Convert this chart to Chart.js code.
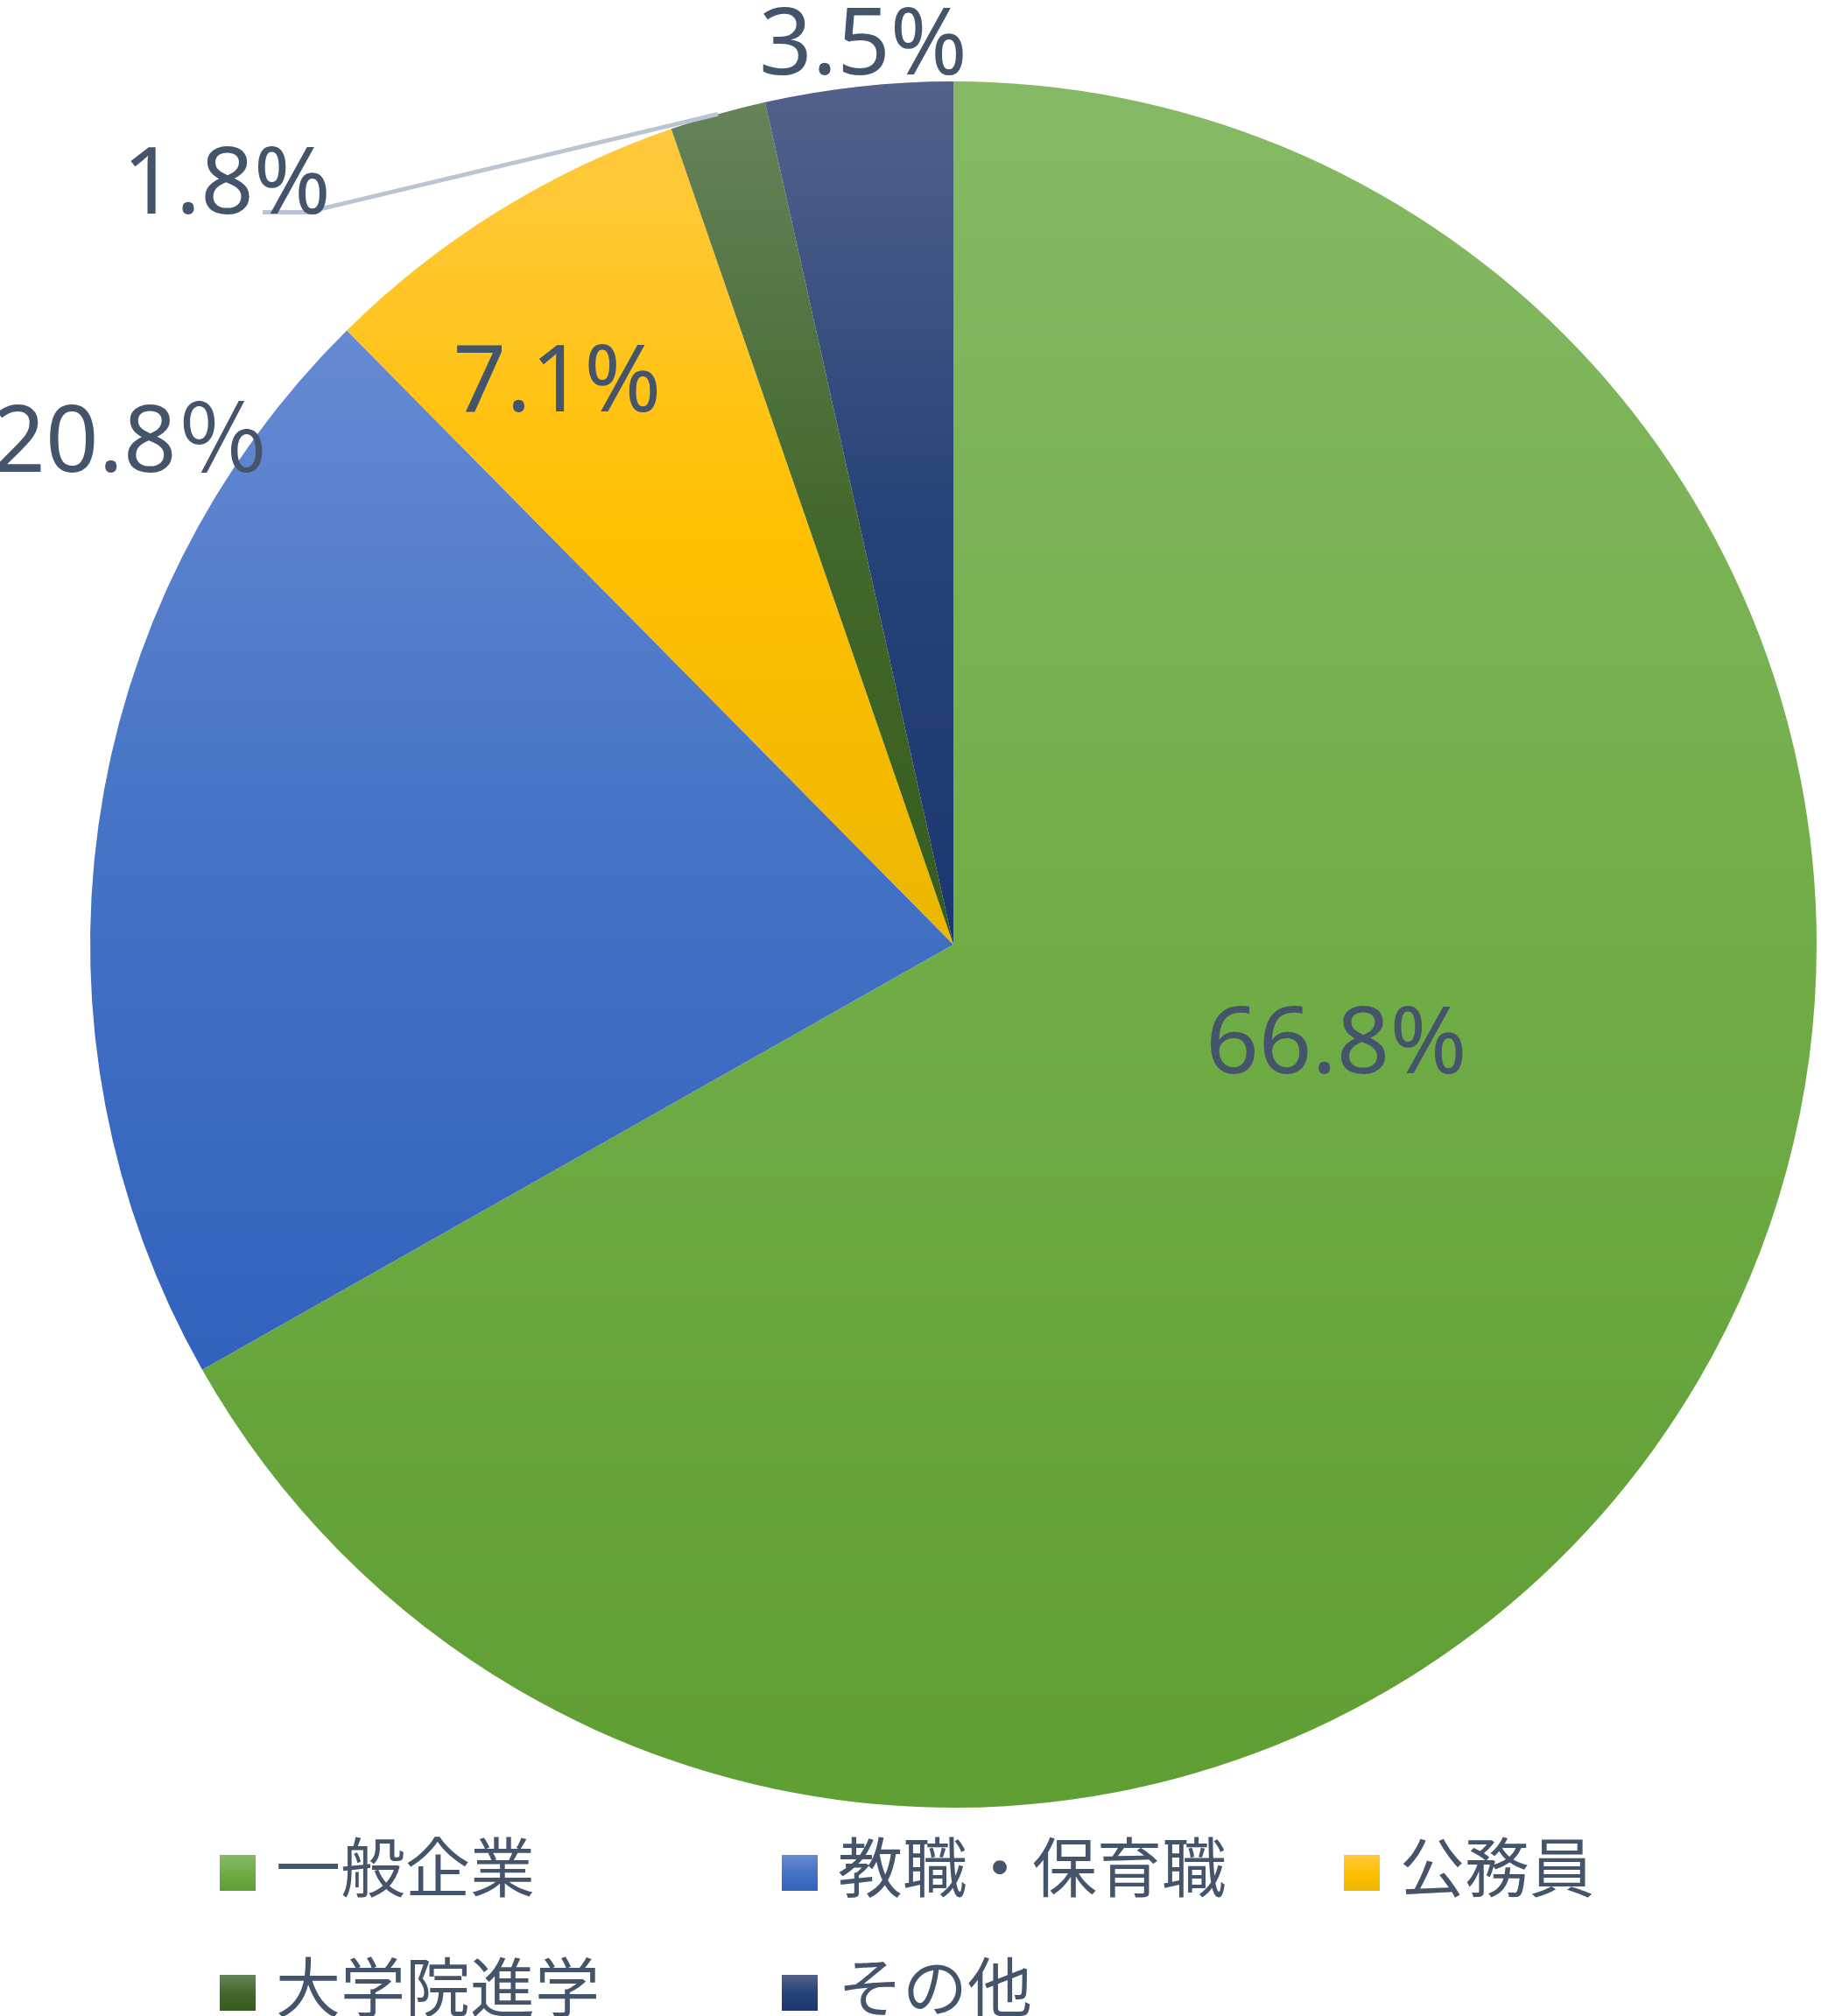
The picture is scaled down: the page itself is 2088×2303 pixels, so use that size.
<!DOCTYPE html>
<html>
<head>
<meta charset="utf-8">
<script src="https://cdn.jsdelivr.net/npm/chart.js@4"></script>
<style>
  html, body { margin: 0; padding: 0; background: #fff; }
  #wrap { width: 2088px; height: 2303px; position: relative; }
</style>
</head>
<body>
<div id="wrap"><canvas id="pieChart"></canvas></div>
<script>
// data
const categories = ['一般企業', '教職・保育職', '公務員', '大学院進学', 'その他'];
const shares = [66.8, 20.8, 7.1, 1.8, 3.5];
const valueLabels = ['66.8%', '20.8％', '7.1%', '1.8%', '3.5%'];

// styles: [top, middle, bottom] of each slice gradient
const sliceColors = [
    ['#86b965', '#70ad47', '#5f9e33'],
    ['#668ad3', '#4472c4', '#3262bd'],
    ['#ffc93f', '#ffc000', '#ebb600'],
    ['#66835a', '#43682b', '#365c1d'],
    ['#53618b', '#264478', '#1c3770']
];
// label placement: radius factor and angle nudge (deg) from slice middle
const labelPlace = [
    { rf: 0.457, shift: -16.3 },
    { rf: 1.119, shift: 23.7 },
    { rf: 0.801, shift: -3.1 },
    { rf: 1.222, shift: -27.7 },
    { rf: 1.052, shift: 0.6 }
];
const textColor = '#44546a';
const labelFont = 'normal 106px "Noto Sans", "Noto Sans CJK JP", sans-serif';
const legendFont = 'normal 74px "Noto Sans CJK JP", sans-serif';

function inRange(a, a0, a1) {
    const TAU = Math.PI * 2;
    let t = a;
    while (t < a0) t += TAU;
    while (t > a0 + TAU) t -= TAU;
    return t <= a1;
}

function sliceGradient(context) {
    const chart = context.chart;
    const area = chart.chartArea;
    const i = context.dataIndex;
    const cols = sliceColors[i];
    if (!area || i === undefined) return cols[1];
    const cx = (area.left + area.right) / 2;
    const cy = (area.top + area.bottom) / 2;
    const r = Math.min(area.right - area.left, area.bottom - area.top) / 2;
    const total = shares.reduce((s, v) => s + v, 0);
    let before = 0;
    for (let k = 0; k < i; k++) before += shares[k];
    const a0 = -Math.PI / 2 + before / total * Math.PI * 2;
    const a1 = a0 + shares[i] / total * Math.PI * 2;
    const ys = [cy, cy + r * Math.sin(a0), cy + r * Math.sin(a1)];
    if (inRange(-Math.PI / 2, a0, a1)) ys.push(cy - r);
    if (inRange(Math.PI / 2, a0, a1)) ys.push(cy + r);
    const top = Math.min(...ys), bottom = Math.max(...ys);
    const g = chart.ctx.createLinearGradient(0, top, 0, bottom);
    g.addColorStop(0, cols[0]);
    g.addColorStop(0.5, cols[1]);
    g.addColorStop(1, cols[2]);
    return g;
}

const labelPlugin = {
    id: 'pieLabels',
    afterDatasetsDraw(chart) {
        const ctx = chart.ctx;
        const arcs = chart.getDatasetMeta(0).data;
        ctx.save();
        ctx.font = labelFont;
        ctx.fillStyle = textColor;
        ctx.textAlign = 'center';
        ctx.textBaseline = 'alphabetic';
        arcs.forEach((arc, i) => {
            const p = arc.getProps(['x', 'y', 'startAngle', 'endAngle', 'outerRadius'], true);
            const mid = (p.startAngle + p.endAngle) / 2;
            const ang = mid + labelPlace[i].shift * Math.PI / 180;
            const lx = p.x + Math.cos(ang) * labelPlace[i].rf * p.outerRadius;
            const ly = p.y + Math.sin(ang) * labelPlace[i].rf * p.outerRadius;
            if (labelPlace[i].rf > 1.15) {
                // leader line from label to slice edge
                const ex = p.x + Math.cos(mid) * p.outerRadius;
                const ey = p.y + Math.sin(mid) * p.outerRadius;
                ctx.save();
                ctx.strokeStyle = '#bac5d3';
                ctx.lineWidth = 5;
                ctx.beginPath();
                ctx.moveTo(lx + 41, ly + 37);
                ctx.lineTo(lx + 91, ly + 37);
                ctx.lineTo(ex, ey);
                ctx.stroke();
                ctx.restore();
            }
            ctx.fillText(valueLabels[i], lx, ly + 0.36 * 106);
        });
        ctx.restore();
    }
};

const legendPlugin = {
    id: 'gridLegend',
    afterDraw(chart) {
        const ctx = chart.ctx;
        const perRow = 3, colW = 642, rowH = 137, x0 = 251, y0 = 2119, box = 41;
        ctx.save();
        ctx.font = legendFont;
        ctx.textAlign = 'left';
        ctx.textBaseline = 'middle';
        chart.data.labels.forEach((label, i) => {
            const x = x0 + (i % perRow) * colW;
            const y = y0 + Math.floor(i / perRow) * rowH;
            const g = ctx.createLinearGradient(0, y, 0, y + box);
            g.addColorStop(0, sliceColors[i][0]);
            g.addColorStop(0.5, sliceColors[i][1]);
            g.addColorStop(1, sliceColors[i][2]);
            ctx.fillStyle = g;
            ctx.fillRect(x, y, box, box);
            ctx.fillStyle = textColor;
            ctx.fillText(label, x + 64, y + 14);
        });
        ctx.restore();
    }
};

new Chart(document.getElementById('pieChart'), {
    type: 'pie',
    data: {
        labels: categories,
        datasets: [{
            data: shares,
            backgroundColor: sliceGradient,
            borderWidth: 0
        }]
    },
    options: {
        responsive: true,
        maintainAspectRatio: false,
        animation: false,
        layout: { padding: { left: 103, right: 13, top: 93, bottom: 238 } },
        plugins: {
            legend: { display: false },
            tooltip: { enabled: false }
        }
    },
    plugins: [labelPlugin, legendPlugin]
});
</script>
</body>
</html>
